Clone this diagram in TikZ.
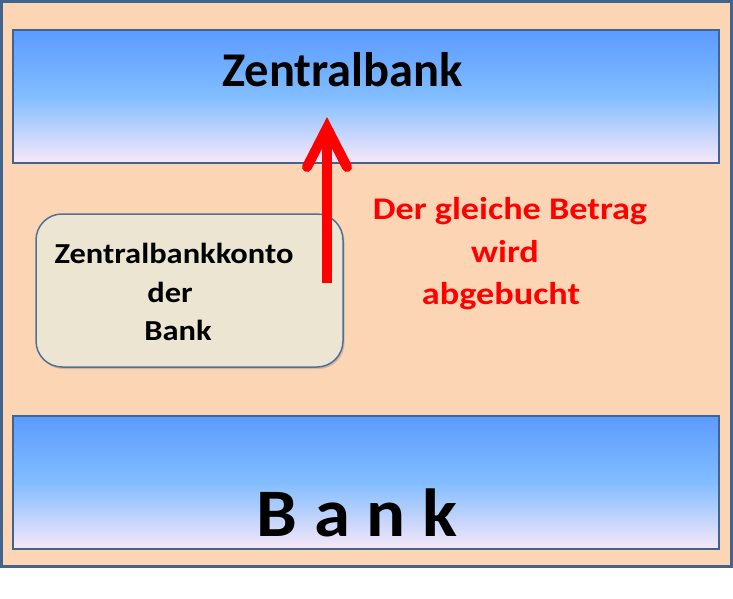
\documentclass[tikz,border=0pt]{standalone}
\usepackage{fontspec}
\setmainfont{Carlito}
\usetikzlibrary{shadows}
\definecolor{peach}{HTML}{FCD5B5}
\definecolor{frame}{HTML}{41648F}
\definecolor{btop}{HTML}{5B9BFF}
\definecolor{bmid}{HTML}{82BDFF}
\definecolor{bbot}{HTML}{F8E8F8}
\definecolor{boxfill}{HTML}{EBE5D1}
\definecolor{boxline}{HTML}{50709A}
\newcommand{\wide}[2]{\scalebox{#1}[1]{#2}}
\tikzset{
  bankbar/.style={draw=frame, line width=2.5pt, top color=btop, bottom color=bbot, middle color=bmid},
  kontobox/.style={draw=boxline, line width=1.5pt, fill=boxfill, rounded corners=26pt, drop shadow={shadow xshift=1.5pt, shadow yshift=-2pt, opacity=0.35}},
  blacktext/.style={anchor=base, text=black, font=\bfseries},
  redtext/.style={anchor=base, text=red, font=\bfseries\fontsize{31.5}{31.5}\selectfont},
  kontotext/.style={anchor=base, text=black, font=\bfseries\fontsize{29}{29}\selectfont},
}
\begin{document}
\begin{tikzpicture}[x=1pt,y=-1pt]
\useasboundingbox (0,0) rectangle (733,599);
\fill[white] (0,0) rectangle (733,599);
\draw[draw=frame, line width=2.5pt, fill=peach] (1.5,1.5) rectangle (731.5,566.5);
\path[bankbar] (13,30) rectangle (719,163);
\path[bankbar] (13,416) rectangle (719,549);
\path[kontobox] (36,214) rectangle (343,367);
\node[blacktext, font=\bfseries\fontsize{48.5}{48.5}\selectfont] (zb) at (342.5,87) {Zentralbank};
\node[blacktext, font=\bfseries\fontsize{68}{68}\selectfont] (bank) at (357,536) {\wide{1.07}{B a n k}};
\node[kontotext] (k1) at (174,263) {\wide{1.12}{Zentralbankkonto}};
\node[kontotext] (k2) at (170,302) {\wide{1.12}{der}};
\node[kontotext] (k3) at (178,340) {\wide{1.12}{Bank}};
\node[redtext] (r1) at (510,219.5) {\wide{1.15}{Der gleiche Betrag}};
\node[redtext] (r2) at (505,262) {\wide{1.15}{wird}};
\node[redtext] (r3) at (501,304) {\wide{1.15}{abgebucht}};
\coordinate (a0) at (327,283);
\coordinate (a1) at (327,130);
\coordinate (tip) at (327,128);
\coordinate (hl) at (307,167);
\coordinate (hr) at (347,167);
\draw[red, line width=10pt] (a0) -- (a1);
\draw[red, line width=10pt, line cap=round, line join=miter] (hl) -- (tip) -- (hr);
\end{tikzpicture}
\end{document}
